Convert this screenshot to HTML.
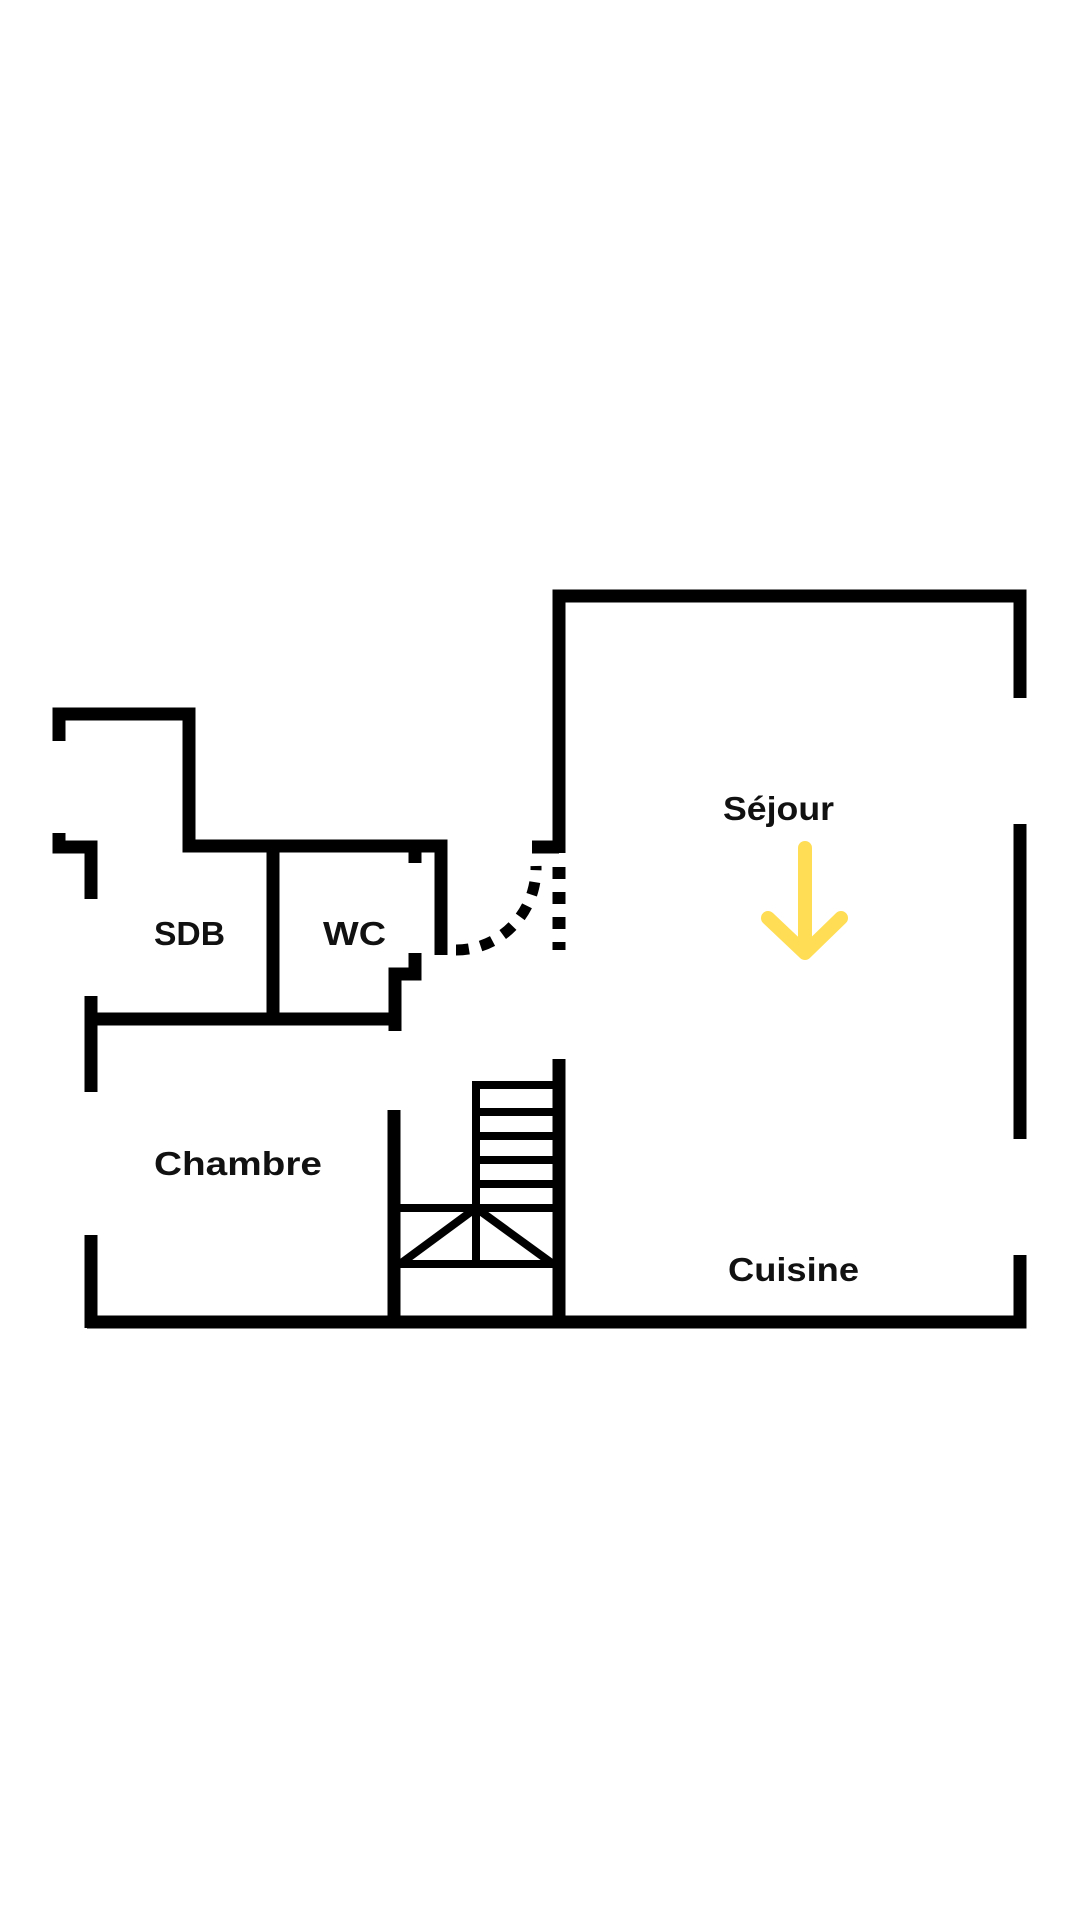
<!DOCTYPE html>
<html><head><meta charset="utf-8"><style>
html,body{margin:0;padding:0;background:#fff;}
svg{display:block;}
text{font-family:"Liberation Sans",sans-serif;font-weight:bold;fill:#111;font-size:33px;}
</style></head><body>
<svg width="1080" height="1920" viewBox="0 0 1080 1920" xmlns="http://www.w3.org/2000/svg">
<rect width="1080" height="1920" fill="#fff"/>
<g stroke="#000" stroke-width="13" fill="none" stroke-linecap="butt" stroke-linejoin="miter">
  <polyline points="559,853 559,596 1020,596 1020,698"/>
  <line x1="1020" y1="824" x2="1020" y2="1139"/>
  <polyline points="1020,1255 1020,1322 87,1322"/>
  <line x1="532" y1="847" x2="559" y2="847"/>
  <polyline points="59,741 59,714 189,714 189,846 441,846 441,955"/>
  <line x1="415" y1="846" x2="415" y2="863"/>
  <polyline points="59,833 59,847 91,847 91,899"/>
  <line x1="273" y1="846" x2="273" y2="1019"/>
  <line x1="87" y1="1019" x2="395" y2="1019"/>
  <polyline points="395,1031 395,974 415,974 415,953"/>
  <line x1="91" y1="996" x2="91" y2="1092"/>
  <line x1="91" y1="1235" x2="91" y2="1328"/>
  <line x1="394" y1="1110" x2="394" y2="1322"/>
  <line x1="559" y1="1059" x2="559" y2="1322"/>
  <line x1="559" y1="867" x2="559" y2="950" stroke-dasharray="12,13"/>
  <path d="M456,950 A80,82 0 0 0 536,866" stroke-width="11" stroke-dasharray="13,12"/>
</g>
<g stroke="#000" stroke-width="8" fill="none">
  <polyline points="476,1264 476,1085 559,1085"/>
  <line x1="476" y1="1112" x2="559" y2="1112"/>
  <line x1="476" y1="1136" x2="559" y2="1136"/>
  <line x1="476" y1="1160" x2="559" y2="1160"/>
  <line x1="476" y1="1184" x2="559" y2="1184"/>
  <line x1="394" y1="1208" x2="559" y2="1208"/>
  <line x1="394" y1="1264" x2="559" y2="1264"/>
  <line x1="476" y1="1208" x2="400" y2="1264"/>
  <line x1="476" y1="1208" x2="553" y2="1264"/>
</g>
<g stroke="#FFDD55" stroke-width="14" fill="none" stroke-linecap="round" stroke-linejoin="round">
  <line x1="805" y1="848" x2="805" y2="950"/>
  <polyline points="768,918 805,953 841,918"/>
</g>
<text x="723" y="820" textLength="111" lengthAdjust="spacingAndGlyphs">Séjour</text>
<text x="154" y="945" textLength="71" lengthAdjust="spacingAndGlyphs">SDB</text>
<text x="323" y="945" textLength="63" lengthAdjust="spacingAndGlyphs">WC</text>
<text x="154" y="1175" textLength="168" lengthAdjust="spacingAndGlyphs">Chambre</text>
<text x="728" y="1281" textLength="131" lengthAdjust="spacingAndGlyphs">Cuisine</text>
</svg>
</body></html>
